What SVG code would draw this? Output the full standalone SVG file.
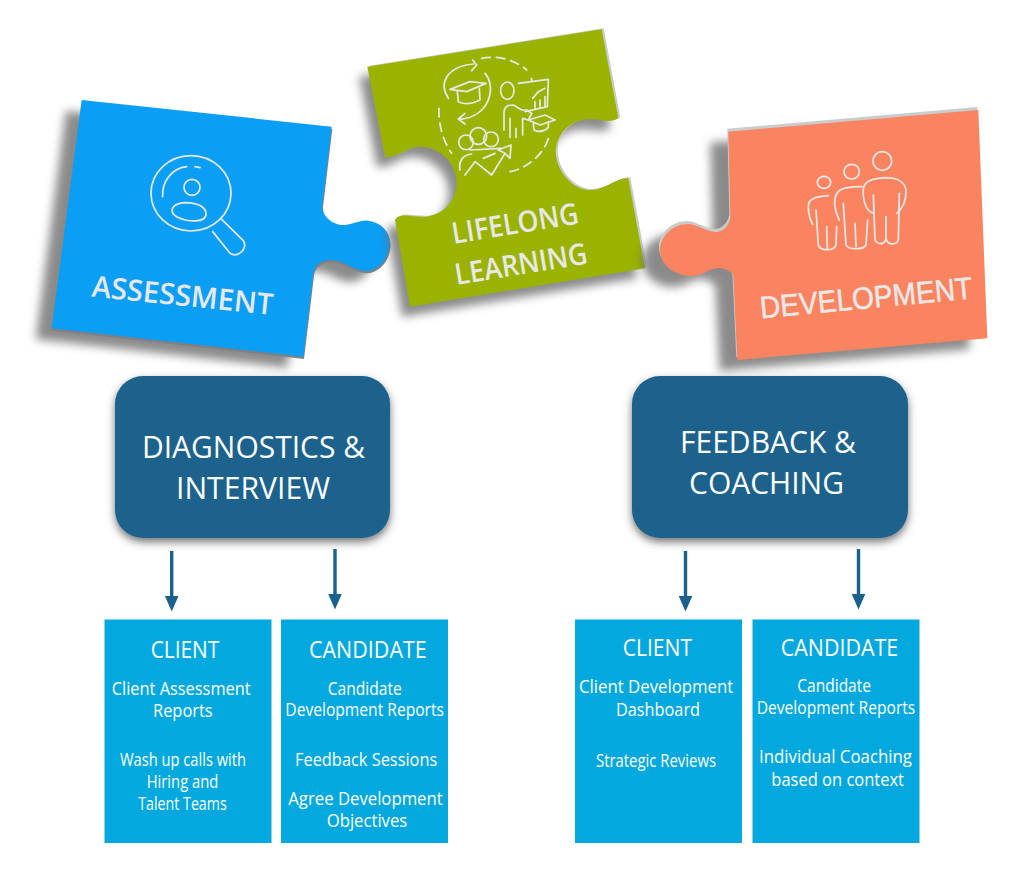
<svg xmlns="http://www.w3.org/2000/svg" xmlns:xlink="http://www.w3.org/1999/xlink" width="1024" height="875" viewBox="0 0 1024 875">
<style>
text{font-family:"Open Sans","Liberation Sans",sans-serif;fill:#fff;text-anchor:start}
.h{font-size:31px}.t{font-size:23.500px}.s{font-size:17.300px}
.p{font-size:29.500px;fill:#e8e8e8;font-weight:600}
.box{fill:#03a9de}.dark{fill:#1a628c;filter:url(#ds)}
.ic{fill:none;stroke:#e8e8e8;stroke-width:5.200;stroke-linecap:round;stroke-linejoin:round}
.sh{fill:#6e6e6e;filter:url(#bl);opacity:.8}
</style>
<defs>
<filter id="bl" x="-20%" y="-20%" width="140%" height="140%"><feGaussianBlur stdDeviation="15"/></filter>
<filter id="ds" x="-10%" y="-10%" width="120%" height="125%"><feDropShadow dx="0" dy="4" stdDeviation="4" flood-color="#444" flood-opacity=".75"/></filter>
<path id="pb" d="M155 60L905 140L877 375C875 410 910 437 945 435C975 432 990 420 1015 422C1055 428 1080 455 1080 490C1078 535 1045 575 1005 573C965 570 945 540 900 540C870 540 852 560 850 580L820 830L65 745Z"/>
<path id="pg" d="M52 140L755 28L805 295C780 310 760 298 720 298C660 300 620 340 617 395C618 455 670 512 725 510C770 508 800 472 835 475L885 745L180 860L135 600C150 575 185 592 230 590C280 585 320 540 320 490C320 430 270 380 210 380C170 382 150 410 105 412Z"/>
<path id="po" d="M235 95L985 30L1012 715L262 780L250 525C225 495 190 500 160 520C110 545 30 510 30 450C32 405 70 372 115 372C150 375 175 400 205 395C225 390 240 370 241 350Z"/>
</defs>
<rect width="1024" height="875" fill="#fff"/>

<g id="assessment" transform="translate(30 80) scale(.33333)">
<use xlink:href="#pb" class="sh" x="-48" y="33"/>
<use xlink:href="#pb" fill="#7f8084" x="2" y="7"/>
<use xlink:href="#pb" fill="#0b9ef5"/>
<g class="ic">
<ellipse cx="483" cy="340" rx="120" ry="113"/>
<path d="M398 350C395 305 425 265 470 260M495 260L510 263"/>
<circle cx="486" cy="322" r="24"/>
<path d="M440 410C415 395 425 370 465 368C510 368 530 385 528 405C525 425 480 430 440 410Z"/>
<path d="M572 415L640 482C655 505 625 535 600 520L548 455"/>
</g>
</g>
<text class="p" transform="translate(91 296.500) rotate(5.800)" textLength="182" lengthAdjust="spacingAndGlyphs">ASSESSMENT</text>

<g id="lifelong-learning">
<g transform="translate(350 20) scale(.33333)">
<use xlink:href="#pg" class="sh" x="-24" y="30"/>
<use xlink:href="#pg" fill="#c9cbc9" x="6" y="-3"/>
<use xlink:href="#pg" fill="#9ab200"/>
</g>
<g class="ic" transform="translate(430 50) scale(.33333)">
<path stroke-dasharray="26 18" d="M155 25C205 15 255 30 290 60M27 175C25 225 40 275 65 310M240 365C290 355 340 315 355 265"/>
<path d="M55 145C25 100 50 50 130 42M128 30L140 45L125 62M165 70C200 110 180 200 90 208M105 190L85 207L105 222"/>
<path d="M60 118L120 95L168 100L110 125ZM82 125L85 155C105 165 130 160 150 150L148 115"/>
<ellipse cx="232" cy="122" rx="20" ry="26"/>
<path d="M222 240V185C225 165 240 165 250 165L275 180L290 180L305 190L295 210L278 205V255M240 205V262M258 235V262"/>
<path d="M265 100L355 88L352 170L285 185M305 95V85M308 145L325 125L345 115M315 175V155M330 170V150M345 170V140"/>
<path d="M295 210L345 195L375 210L330 225ZM310 220L312 240C330 250 350 240 355 232V215"/>
<circle cx="108" cy="277" r="22"/><circle cx="145" cy="258" r="25"/><circle cx="183" cy="268" r="22"/>
<path d="M90 360C85 330 100 315 125 312M105 375L135 335L185 375L225 310L205 300L243 285L240 325L225 310M120 300L215 295M160 325L195 310"/>
</g>
</g>
<text class="p" transform="translate(453.500 244) rotate(-9.300)" textLength="128" lengthAdjust="spacingAndGlyphs">LIFELONG</text>
<text class="p" transform="translate(456.500 285) rotate(-9.300)" textLength="134" lengthAdjust="spacingAndGlyphs">LEARNING</text>

<g id="development">
<g transform="translate(650 100) scale(.33333)">
<use xlink:href="#po" class="sh" x="-54" y="33"/>
<use xlink:href="#po" fill="#c8cccc" x="-3" y="-9"/>
<use xlink:href="#po" fill="#fb8460"/>
</g>
<g class="ic" transform="translate(800 145) scale(.33333)">
<ellipse cx="72" cy="112" rx="20" ry="18"/><ellipse cx="155" cy="80" rx="23" ry="22"/><ellipse cx="247" cy="48" rx="28" ry="28"/>
<path d="M38 238C25 215 22 185 28 170C38 155 65 153 85 152M48 195L55 300C60 318 100 320 108 300L110 245M80 245L82 312"/>
<path d="M118 225C100 190 100 155 115 140C125 128 150 125 185 125M130 175L138 300C145 315 190 315 198 300L203 225M165 235L168 305"/>
<path d="M222 205C195 200 188 160 190 130C195 105 225 100 255 98C290 98 318 110 318 140C318 170 308 190 290 205M220 150L225 285C232 300 255 300 258 280V215M258 280C262 302 290 300 295 285L298 145"/>
</g>
</g>
<text class="p" transform="translate(761 318.500) rotate(-5.400)" style="font-family:'Liberation Sans',sans-serif;font-weight:400;font-size:31px;stroke:#e8e8e8;stroke-width:.5" textLength="213" lengthAdjust="spacingAndGlyphs">DEVELOPMENT</text>

<g id="diagnostics">
<rect class="dark" x="115" y="376" width="275" height="162" rx="28"/>
<text class="h" x="142" y="458" textLength="223" lengthAdjust="spacingAndGlyphs">DIAGNOSTICS &amp;</text>
<text class="h" x="176" y="498.500" textLength="154" lengthAdjust="spacingAndGlyphs">INTERVIEW</text>
</g>
<g id="feedback">
<rect class="dark" x="632" y="376" width="276" height="162" rx="28"/>
<text class="h" x="680" y="453" textLength="176" lengthAdjust="spacingAndGlyphs">FEEDBACK &amp;</text>
<text class="h" x="689" y="494" textLength="155" lengthAdjust="spacingAndGlyphs">COACHING</text>
</g>

<g id="connectors">
<g fill="#1a628c" stroke="none">
<path d="M170 551h3.400v45h5.100L171.700 611.500L164.900 596H170Z"/>
<path d="M333.300 549h3.400v45h5.100L335 609.500L328.200 594H333.300Z"/>
<path d="M683.800 551h3.400v45h5.100L685.500 611.500L678.700 596H683.800Z"/>
<path d="M856.800 549h3.400v45h5.100L858.500 609.500L851.700 594H856.800Z"/>
</g>
</g>

<g id="client-1">
<rect class="box" x="104.500" y="619.500" width="167" height="223.500"/>
<text class="t" x="150.700" y="658" textLength="68.600" lengthAdjust="spacingAndGlyphs">CLIENT</text>
<text class="s" x="111.700" y="695" textLength="139" lengthAdjust="spacingAndGlyphs">Client Assessment</text>
<text class="s" x="153" y="717" textLength="59.700" lengthAdjust="spacingAndGlyphs">Reports</text>
<text class="s" x="120" y="766" textLength="126" lengthAdjust="spacingAndGlyphs">Wash up calls with</text>
<text class="s" x="146.700" y="788" textLength="71.600" lengthAdjust="spacingAndGlyphs">Hiring and</text>
<text class="s" x="138.300" y="810" textLength="88.400" lengthAdjust="spacingAndGlyphs">Talent Teams</text>
</g>
<g id="candidate-1">
<rect class="box" x="281" y="619.500" width="167" height="223.500"/>
<text class="t" x="309" y="658" textLength="117.700" lengthAdjust="spacingAndGlyphs">CANDIDATE</text>
<text class="s" x="327.700" y="695" textLength="74" lengthAdjust="spacingAndGlyphs">Candidate</text>
<text class="s" x="285.300" y="716" textLength="158.700" lengthAdjust="spacingAndGlyphs">Development Reports</text>
<text class="s" x="295" y="766" textLength="142.300" lengthAdjust="spacingAndGlyphs">Feedback Sessions</text>
<text class="s" x="288.300" y="805" textLength="154.400" lengthAdjust="spacingAndGlyphs">Agree Development</text>
<text class="s" x="326.700" y="827" textLength="80.600" lengthAdjust="spacingAndGlyphs">Objectives</text>
</g>
<g id="client-2">
<rect class="box" x="575" y="619.500" width="167" height="223.500"/>
<text class="t" x="622.700" y="655.700" textLength="69.300" lengthAdjust="spacingAndGlyphs">CLIENT</text>
<text class="s" x="579" y="693.300" textLength="154.300" lengthAdjust="spacingAndGlyphs">Client Development</text>
<text class="s" x="616" y="715.700" textLength="84" lengthAdjust="spacingAndGlyphs">Dashboard</text>
<text class="s" x="596" y="766.700" textLength="120" lengthAdjust="spacingAndGlyphs">Strategic Reviews</text>
</g>
<g id="candidate-2">
<rect class="box" x="752.500" y="619.500" width="167" height="223.500"/>
<text class="t" x="780.700" y="655.700" textLength="117.600" lengthAdjust="spacingAndGlyphs">CANDIDATE</text>
<text class="s" x="797.300" y="692.300" textLength="73.700" lengthAdjust="spacingAndGlyphs">Candidate</text>
<text class="s" x="756.700" y="713.700" textLength="158.600" lengthAdjust="spacingAndGlyphs">Development Reports</text>
<text class="s" x="759" y="763.300" textLength="153" lengthAdjust="spacingAndGlyphs">Individual Coaching</text>
<text class="s" x="771.300" y="785.700" textLength="132.700" lengthAdjust="spacingAndGlyphs">based on context</text>
</g>
</svg>
